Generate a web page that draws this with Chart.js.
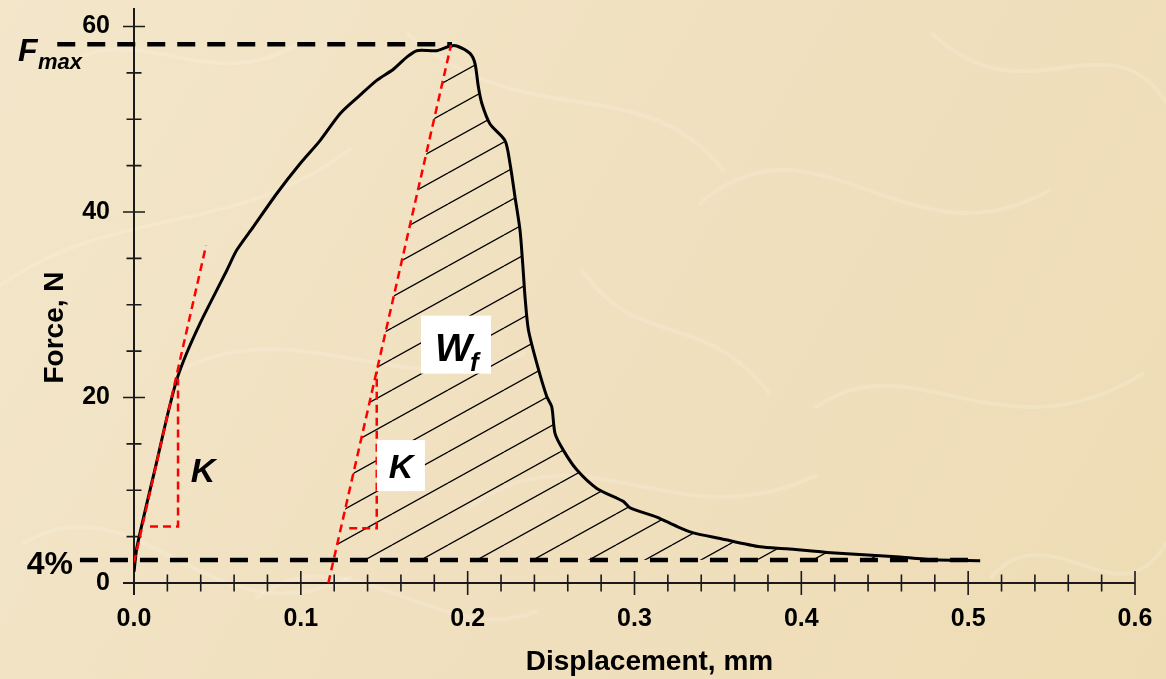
<!DOCTYPE html>
<html>
<head>
<meta charset="utf-8">
<script src="https://cdn.jsdelivr.net/npm/chart.js@4.4.1/dist/chart.umd.min.js"></script>
<style>
  html, body { margin: 0; padding: 0; background: #efdfbc; }
  #wrap { width: 1166px; height: 679px; }
</style>
</head>
<body>
<div id="wrap"><canvas id="forceChart" width="1166" height="679"></canvas></div>
<script>
// force / displacement curve
var disp = [0.000, 0.0018, 0.0134, 0.0198, 0.0256, 0.0316, 0.0396, 0.0474, 0.0556, 0.0616,
            0.0715, 0.0856, 0.0995, 0.1115, 0.1235, 0.1355, 0.1455, 0.1555, 0.1635, 0.1695,
            0.1815, 0.1894, 0.1935, 0.2014, 0.2044, 0.2064, 0.2085, 0.2134, 0.2224, 0.2254,
            0.2284, 0.2314, 0.2330, 0.2344, 0.2364, 0.2414, 0.2474, 0.2504, 0.2524, 0.2574,
            0.2654, 0.2774, 0.2933, 0.2974, 0.3134, 0.3254, 0.3353, 0.3513, 0.3753, 0.3913,
            0.4153, 0.4592, 0.4792, 0.5072];
var force = [1.2, 3.9, 12.9, 17.9, 21.9, 24.8, 28.0, 30.8, 33.7, 35.9,
             38.4, 42.0, 45.2, 47.7, 50.6, 52.6, 54.2, 55.4, 56.7, 57.4,
             57.4, 57.9, 57.9, 57.1, 56.0, 53.5, 51.7, 49.5, 47.7, 45.2,
             41.6, 38.0, 34.4, 30.8, 27.3, 23.7, 20.1, 19.0, 16.1, 14.3,
             12.2, 10.2, 8.8, 8.1, 7.1, 6.1, 5.4, 4.8, 3.9, 3.7,
             3.3, 2.8, 2.5, 2.4];

// stiffness tangent at the start and the unloading line from the peak
var kLineX = [0.0, 0.0432];
var kLineY = [2.2, 36.4];
var unloadX = [0.1165, 0.1900];
var unloadY = [0.0, 58.0];

// small K triangles
var tri1X = [0.0096, 0.0264, 0.0264];
var tri1Y = [6.1, 6.1, 22.0];
var tri2X = [0.129, 0.1455, 0.1455];
var tri2Y = [5.9, 5.9, 22.8];

// Fmax and 4% levels
var fmax = 58.1;
var fmaxX = [-0.046, 0.1906];
var cut = 2.48;
var cutX = [-0.0324, 0.507];

var xTicks = [0, 0.1, 0.2, 0.3, 0.4, 0.5, 0.6];
var yTicks = [0, 20, 40, 60];
var xMinor = 0.02;
var yMinor = 5;

function pts(xs, ys) {
    return xs.map(function(v, i) { return {x: v, y: ys[i]}; });
}

// hatched area: unloading line up to the peak, then the curve down to the 4% line
var hatch = [
    {x: unloadX[0] + (cut - unloadY[0]) * (unloadX[1] - unloadX[0]) / (unloadY[1] - unloadY[0]), y: cut},
    {x: unloadX[1], y: unloadY[1]}
];
for (var i = 0; i < disp.length; i++) {
    if (disp[i] > unloadX[1] && force[i] >= cut) hatch.push({x: disp[i], y: force[i]});
}

var canvas = document.getElementById('forceChart');
var ctx = canvas.getContext('2d');

function hatchPattern() {
    var c = document.createElement('canvas');
    c.width = 56; c.height = 31;
    var g = c.getContext('2d');
    g.strokeStyle = '#000';
    g.lineWidth = 1.3;
    g.beginPath();
    for (var k = -1; k <= 1; k++) {
        g.moveTo(0, 31 + k * 31);
        g.lineTo(56, k * 31);
    }
    g.stroke();
    var p = ctx.createPattern(c, 'repeat');
    p.setTransform(new DOMMatrix().translate(0, 18));
    return p;
}

var FONT = '"Liberation Sans", Arial, sans-serif';
var red = '#ff0000';

// a few pale fibres for the paper look (fractions of the canvas)
var fibres = [
    [0.00, 0.42, 0.10, 0.30, 0.20, 0.35, 0.30, 0.22],
    [0.02, 0.80, 0.12, 0.70, 0.18, 0.95, 0.30, 0.85],
    [0.15, 0.55, 0.25, 0.45, 0.35, 0.60, 0.45, 0.52],
    [0.35, 0.05, 0.45, 0.20, 0.55, 0.10, 0.62, 0.25],
    [0.40, 0.75, 0.50, 0.62, 0.58, 0.80, 0.70, 0.70],
    [0.60, 0.30, 0.70, 0.15, 0.78, 0.40, 0.90, 0.28],
    [0.70, 0.60, 0.78, 0.50, 0.86, 0.68, 0.98, 0.55],
    [0.80, 0.05, 0.88, 0.18, 0.95, 0.02, 1.00, 0.15],
    [0.50, 0.40, 0.55, 0.52, 0.60, 0.45, 0.66, 0.58],
    [0.85, 0.85, 0.90, 0.75, 0.96, 0.92, 1.00, 0.80],
    [0.05, 0.10, 0.12, 0.02, 0.18, 0.15, 0.26, 0.06],
    [0.22, 0.88, 0.30, 0.78, 0.38, 0.96, 0.46, 0.90]
];

var paper = {
    id: 'paper',
    beforeDraw: function(chart) {
        var c = chart.ctx, w = chart.width, h = chart.height;
        var g = c.createLinearGradient(0, 0, w, h);
        g.addColorStop(0, '#f3e6ca');
        g.addColorStop(0.5, '#f0e0bf');
        g.addColorStop(1, '#eedcb4');
        c.save();
        c.fillStyle = g;
        c.fillRect(0, 0, w, h);
        c.strokeStyle = 'rgba(255, 251, 238, 0.18)';
        c.lineWidth = 4;
        c.lineCap = 'round';
        c.shadowColor = 'rgba(255, 251, 238, 0.35)';
        c.shadowBlur = 10;
        fibres.forEach(function(f) {
            c.beginPath();
            c.moveTo(f[0] * w, f[1] * h);
            c.bezierCurveTo(f[2] * w, f[3] * h, f[4] * w, f[5] * h, f[6] * w, f[7] * h);
            c.stroke();
        });
        c.restore();
    },
    beforeDatasetsDraw: function(chart) {
        var c = chart.ctx, xs = chart.scales.x, ys = chart.scales.y;
        var x0 = xs.getPixelForValue(0), y0 = ys.getPixelForValue(0);
        c.save();
        c.strokeStyle = '#1a1a1a';
        c.lineWidth = 2;
        c.beginPath();
        c.moveTo(x0, ys.top);
        c.lineTo(x0, y0 + 12);
        c.moveTo(x0 - 11, y0);
        c.lineTo(xs.right, y0);
        c.stroke();
        c.lineWidth = 1.6;
        c.beginPath();
        var n = Math.round(ys.max / yMinor);
        for (var j = 1; j <= n; j++) {
            var v = j * yMinor;
            if (v > 60) break;
            var py = ys.getPixelForValue(v);
            var len = yTicks.indexOf(v) >= 0 ? 11 : 7.5;
            c.moveTo(x0 - len, py);
            c.lineTo(x0 + len, py);
        }
        var m = Math.round((xs.max - xs.min) / xMinor);
        for (var k = 1; k <= m; k++) {
            var px = xs.getPixelForValue(k * xMinor);
            var l = k % 5 === 0 ? 12 : 8.5;
            c.moveTo(px, y0 - l);
            c.lineTo(px, y0 + l);
        }
        c.stroke();
        c.restore();
    },
    afterDatasetsDraw: function(chart) {
        var c = chart.ctx, xs = chart.scales.x, ys = chart.scales.y;
        var a = chart.chartArea;
        c.save();
        c.fillStyle = '#000';
        c.textBaseline = 'alphabetic';

        // F max
        var yf = ys.getPixelForValue(fmax);
        c.font = 'bold italic 32px ' + FONT;
        c.textAlign = 'left';
        c.fillText('F', a.left - 116, yf + 17);
        c.font = 'bold italic 22px ' + FONT;
        c.fillText('max', a.left - 96, yf + 25);

        // 4%
        c.font = 'bold 32px ' + FONT;
        c.textAlign = 'right';
        c.fillText('4%', a.left - 61, ys.getPixelForValue(cut) + 14);

        // K labels
        c.font = 'bold italic 34px ' + FONT;
        c.textAlign = 'center';
        c.fillText('K', xs.getPixelForValue(0.0414), ys.getPixelForValue(12.2) + 12);

        var kx = xs.getPixelForValue(0.160), ky = ys.getPixelForValue(12.66);
        c.fillStyle = '#fff';
        c.fillRect(kx - 24, ky - 25.5, 48, 51);
        c.fillStyle = '#000';
        c.fillText('K', kx, ky + 12);

        // W f
        var wx = xs.getPixelForValue(0.193), wy = ys.getPixelForValue(25.7);
        c.fillStyle = '#fff';
        c.fillRect(wx - 35, wy - 29, 70, 58);
        c.fillStyle = '#000';
        c.textAlign = 'left';
        c.font = 'bold italic 39px ' + FONT;
        c.fillText('W', wx - 21, wy + 16);
        c.font = 'bold italic 26px ' + FONT;
        c.fillText('f', wx + 14, wy + 26);

        // axis titles
        c.font = 'bold 28px ' + FONT;
        c.textAlign = 'center';
        c.textBaseline = 'middle';
        c.fillText('Displacement, mm', (a.left + a.right) / 2 + 15, a.bottom + 79);
        c.translate(a.left - 79, (a.top + a.bottom) / 2 + 32);
        c.rotate(-Math.PI / 2);
        c.fillText('Force, N', 0, 0);
        c.restore();
    }
};

var dashed = [18, 12];
var redDash = [8, 5];

var chart = new Chart(ctx, {
    type: 'scatter',
    data: {
        datasets: [
            {
                label: 'curve',
                data: pts(disp, force),
                showLine: true,
                tension: 0.25,
                borderColor: '#000',
                borderWidth: 3,
                pointRadius: 0,
                order: 1
            },
            {
                label: 'Fmax',
                data: pts(fmaxX, [fmax, fmax]),
                showLine: true,
                borderColor: '#000',
                borderWidth: 4.5,
                borderDash: dashed,
                pointRadius: 0,
                clip: false,
                order: 2
            },
            {
                label: '4%',
                data: pts(cutX, [cut, cut]),
                showLine: true,
                borderColor: '#000',
                borderWidth: 4.5,
                borderDash: dashed,
                pointRadius: 0,
                clip: false,
                order: 2
            },
            {
                label: 'K start',
                data: pts(kLineX, kLineY),
                showLine: true,
                borderColor: red,
                borderWidth: 2.5,
                borderDash: redDash,
                pointRadius: 0,
                order: 0
            },
            {
                label: 'K triangle 1',
                data: pts(tri1X, tri1Y),
                showLine: true,
                borderColor: red,
                borderWidth: 2.5,
                borderDash: redDash,
                pointRadius: 0,
                order: 0
            },
            {
                label: 'unloading',
                data: pts(unloadX, unloadY),
                showLine: true,
                borderColor: red,
                borderWidth: 2.5,
                borderDash: redDash,
                pointRadius: 0,
                clip: false,
                order: 0
            },
            {
                label: 'K triangle 2',
                data: pts(tri2X, tri2Y),
                showLine: true,
                borderColor: red,
                borderWidth: 2.5,
                borderDash: redDash,
                pointRadius: 0,
                order: 0
            },
            {
                label: 'Wf',
                data: hatch,
                showLine: true,
                fill: 'shape',
                backgroundColor: hatchPattern(),
                borderColor: 'rgba(0,0,0,0)',
                borderWidth: 1,
                pointRadius: 0,
                order: 5
            }
        ]
    },
    options: {
        responsive: false,
        devicePixelRatio: 1,
        animation: false,
        layout: { padding: { top: 8, right: 31, left: 0, bottom: 0 } },
        plugins: {
            legend: { display: false },
            tooltip: { enabled: false }
        },
        scales: {
            x: {
                type: 'linear',
                min: 0,
                max: 0.6,
                grid: { display: false, drawTicks: false },
                border: { display: false },
                ticks: {
                    color: '#000',
                    padding: 21,
                    font: { family: FONT, size: 25, weight: 'bold' },
                    callback: function(v) { return v.toFixed(1); }
                },
                afterBuildTicks: function(s) {
                    s.ticks = xTicks.map(function(v) { return {value: v}; });
                },
                afterFit: function(s) {
                    s.height = 96;
                    s.paddingLeft = 0;
                    s.paddingRight = 0;
                }
            },
            y: {
                type: 'linear',
                min: 0,
                max: 62,
                grid: { display: false, drawTicks: false },
                border: { display: false },
                ticks: {
                    color: '#000',
                    padding: 24,
                    font: { family: FONT, size: 25, weight: 'bold' }
                },
                afterBuildTicks: function(s) {
                    s.ticks = yTicks.map(function(v) { return {value: v}; });
                },
                afterFit: function(s) {
                    s.width = 134;
                    s.paddingTop = 0;
                    s.paddingBottom = 0;
                }
            }
        }
    },
    plugins: [paper]
});
</script>
</body>
</html>
